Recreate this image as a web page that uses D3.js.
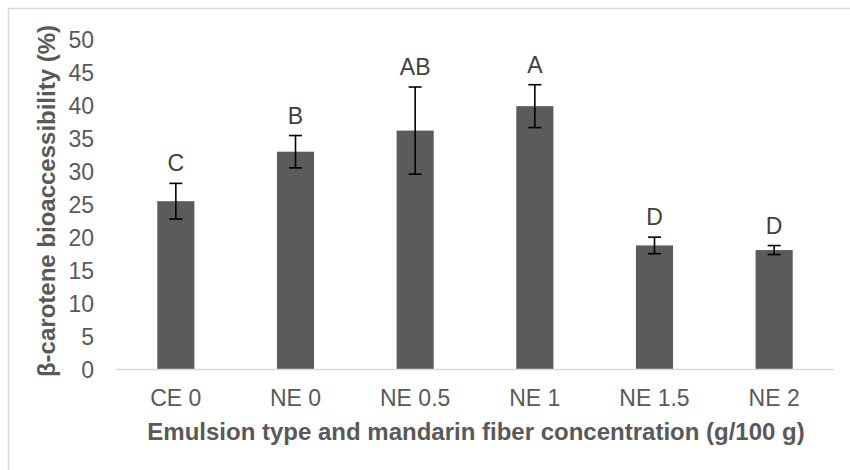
<!DOCTYPE html>
<html>
<head>
<meta charset="utf-8">
<script src="https://cdn.jsdelivr.net/npm/d3@7"></script>
<style>
  body { margin: 0; background: #fff; }
  text { font-family: Arial, "Liberation Sans", sans-serif; }
</style>
</head>
<body>
<script>
const categories = ["CE 0", "NE 0", "NE 0.5", "NE 1", "NE 1.5", "NE 2"];
const means = [25.5, 33.0, 36.2, 39.9, 18.8, 18.1];
const sds = [2.7, 2.45, 6.6, 3.25, 1.25, 0.68];
const letters = ["C", "B", "AB", "A", "D", "D"];
const yTicks = [0, 5, 10, 15, 20, 25, 30, 35, 40, 45, 50];

const width = 850, height = 470;
const plotLeft = 116, plotRight = 834, plotTop = 39.5, plotBottom = 369.5;

const svg = d3.select("body").append("svg")
    .attr("width", width)
    .attr("height", height);

// outer frame
svg.append("rect")
    .attr("x", 8.5).attr("y", 8.5)
    .attr("width", 860).attr("height", 480)
    .attr("fill", "none")
    .attr("stroke", "#d9d9d9")
    .attr("stroke-width", 1.5);

const x = d3.scaleBand()
    .domain(categories)
    .range([plotLeft, plotRight])
    .paddingInner(0.69)
    .paddingOuter(0.345);

const y = d3.scaleLinear().domain([0, 50]).range([plotBottom, plotTop]);

// y tick labels
svg.append("g").selectAll("text")
    .data(yTicks)
    .join("text")
    .attr("x", 94)
    .attr("y", d => y(d))
    .attr("dy", "0.35em")
    .attr("text-anchor", "end")
    .attr("fill", "#595959")
    .style("font-size", "23px")
    .text(d => d);

// bars
svg.append("g").selectAll("rect")
    .data(means)
    .join("rect")
    .attr("x", (d, i) => x(categories[i]))
    .attr("y", d => y(d))
    .attr("width", x.bandwidth())
    .attr("height", d => y(0) - y(d))
    .attr("fill", "#5b5b5b");

// x axis line
svg.append("line")
    .attr("x1", plotLeft).attr("x2", plotRight)
    .attr("y1", plotBottom).attr("y2", plotBottom)
    .attr("stroke", "#d9d9d9")
    .attr("stroke-width", 1.5);

// error bars
const eb = svg.append("g").attr("stroke", "#000").attr("stroke-width", 1.6);
means.forEach((m, i) => {
    const cx = x(categories[i]) + x.bandwidth() / 2;
    const hi = y(m + sds[i]), lo = y(m - sds[i]);
    eb.append("line").attr("x1", cx).attr("x2", cx).attr("y1", hi).attr("y2", lo);
    eb.append("line").attr("x1", cx - 6.5).attr("x2", cx + 6.5).attr("y1", hi).attr("y2", hi);
    eb.append("line").attr("x1", cx - 6.5).attr("x2", cx + 6.5).attr("y1", lo).attr("y2", lo);
});

// significance letters
svg.append("g").selectAll("text")
    .data(letters)
    .join("text")
    .attr("x", (d, i) => x(categories[i]) + x.bandwidth() / 2)
    .attr("y", (d, i) => y(means[i] + sds[i]) - 12)
    .attr("text-anchor", "middle")
    .attr("fill", "#404040")
    .style("font-size", "23px")
    .text(d => d);

// x tick labels
svg.append("g").selectAll("text")
    .data(categories)
    .join("text")
    .attr("x", d => x(d) + x.bandwidth() / 2)
    .attr("y", 406)
    .attr("text-anchor", "middle")
    .attr("fill", "#595959")
    .style("font-size", "23px")
    .text(d => d);

// axis titles
svg.append("text")
    .attr("x", 476)
    .attr("y", 440)
    .attr("text-anchor", "middle")
    .attr("fill", "#595959")
    .style("font-size", "24px")
    .style("font-weight", "bold")
    .text("Emulsion type and mandarin fiber concentration (g/100 g)");

svg.append("text")
    .attr("transform", "translate(55,201) rotate(-90)")
    .attr("text-anchor", "middle")
    .attr("fill", "#595959")
    .style("font-size", "24px")
    .style("font-weight", "bold")
    .text("β-carotene bioaccessibility (%)");
</script>
</body>
</html>
